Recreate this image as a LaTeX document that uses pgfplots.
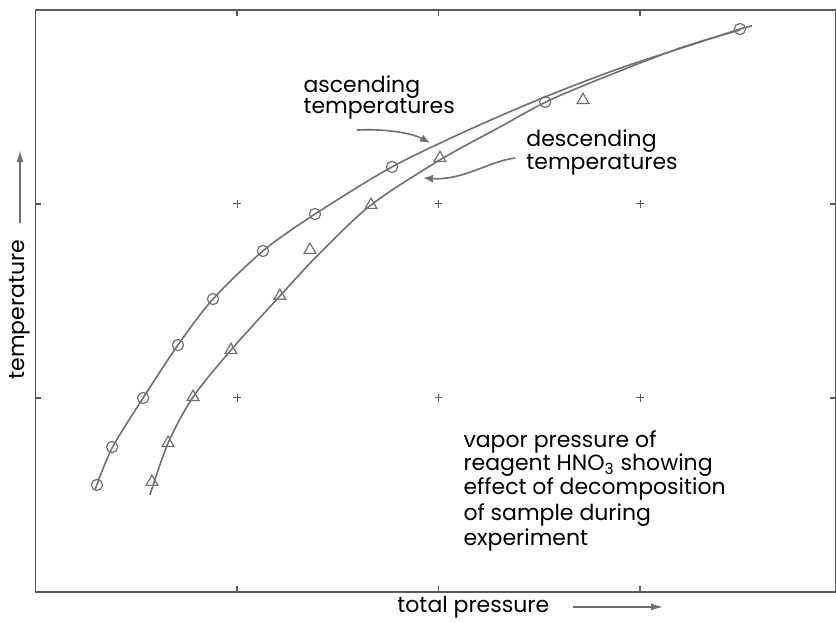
\documentclass[border=0pt]{standalone}
\usepackage{fontspec}
\setmainfont{Poppins}
\usepackage{pgfplots}
\pgfplotsset{compat=1.18}
\usetikzlibrary{arrows.meta}

\definecolor{pencil}{HTML}{707070}
\definecolor{frame}{HTML}{5A5A5A}

\begin{document}
\begin{tikzpicture}[font=\fontsize{11}{12}\selectfont]
\begin{axis}[
    name=ax,
    scale only axis,
    width=400pt, height=291pt,
    xmin=0, xmax=3.97,
    ymin=0, ymax=3,
    xtick={1,2,3}, ytick={1,2},
    xticklabels={}, yticklabels={},
    tick align=inside,
    major tick length=3pt,
    tick style={draw=frame, line width=0.6pt},
    axis line style={draw=frame, line width=0.8pt},
    clip=false,
    ]
% grid crosses
\addplot[only marks, mark=+, mark size=1.8pt, frame, mark options={line width=0.5pt}]
  coordinates {(1,1)(2,1)(3,1)(1,2)(2,2)(3,2)};

% ascending temperatures: drawn curve
\addplot[pencil, line width=0.8pt, smooth, tension=0.5] coordinates {
  (0.295,0.526)(0.380,0.742)(0.534,1.000)(0.707,1.273)(0.881,1.510)
  (1.129,1.758)(1.387,1.948)(1.769,2.191)(2.156,2.385)(2.529,2.552)
  (2.901,2.700)(3.248,2.818)(3.496,2.902)(3.556,2.918)};
% ascending temperatures: points
\addplot[only marks, mark=o, mark size=2.8pt, pencil, mark options={line width=0.6pt}] coordinates {
  (0.305,0.552)(0.380,0.747)(0.534,1.000)(0.707,1.273)(0.881,1.510)
  (1.129,1.758)(1.387,1.948)(1.769,2.191)(2.529,2.526)(3.496,2.902)};

% descending temperatures: drawn curve
\addplot[pencil, line width=0.8pt, smooth, tension=0.5] coordinates {
  (0.568,0.500)(0.658,0.768)(0.782,1.005)(0.970,1.247)(1.213,1.526)
  (1.400,1.735)(1.665,1.995)(2.007,2.227)(2.305,2.397)(2.553,2.536)
  (2.886,2.680)(3.213,2.809)(3.496,2.897)};
% descending temperatures: points
\addplot[only marks, mark=triangle, mark size=3.4pt, pencil, mark options={line width=0.6pt}] coordinates {
  (0.578,0.567)(0.658,0.768)(0.782,1.005)(0.970,1.247)(1.213,1.526)
  (1.362,1.763)(1.665,1.995)(2.007,2.237)(2.717,2.536)};

% annotations
\node[anchor=base west, inner sep=0pt] at (axis cs:1.328,2.577) {ascending};
\node[anchor=base west, inner sep=0pt] at (axis cs:1.328,2.464) {temperatures};
\draw[pencil, line width=0.8pt, -{Latex[length=5pt,width=4pt]}]
  (axis cs:1.595,2.381) .. controls (axis cs:1.75,2.39) and (axis cs:1.88,2.36) .. (axis cs:1.958,2.314);

\node[anchor=base west, inner sep=0pt] at (axis cs:2.434,2.294) {descending};
\node[anchor=base west, inner sep=0pt] at (axis cs:2.434,2.180) {temperatures};
\draw[pencil, line width=0.8pt, -{Latex[length=5pt,width=4pt]}]
  (axis cs:2.380,2.237) .. controls (axis cs:2.25,2.22) and (axis cs:2.12,2.12) .. (axis cs:1.923,2.134);

\node[anchor=base west, inner sep=0pt] at (axis cs:2.122,0.747) {vapor pressure of};
\node[anchor=base west, inner sep=0pt] at (axis cs:2.122,0.624) {reagent HNO\textsubscript{3} showing};
\node[anchor=base west, inner sep=0pt] at (axis cs:2.122,0.500) {effect of decomposition};
\node[anchor=base west, inner sep=0pt] at (axis cs:2.122,0.371) {of sample during};
\node[anchor=base west, inner sep=0pt] at (axis cs:2.122,0.242) {experiment};

% axis titles with arrows
\node[anchor=base west, inner sep=0pt] at (axis cs:1.794,-0.108) {total pressure};
\draw[pencil, line width=0.8pt, -{Latex[length=6pt,width=3.5pt]}]
  (axis cs:2.668,-0.077) -- (axis cs:3.115,-0.077);
\node[anchor=base west, inner sep=0pt, rotate=90] at (axis cs:-0.057,1.093) {temperature};
\draw[pencil, line width=0.8pt, -{Latex[length=6pt,width=3.5pt]}]
  (axis cs:-0.077,1.902) -- (axis cs:-0.077,2.278);

\coordinate (sw) at (rel axis cs:0,0);
\coordinate (ne) at (rel axis cs:1,1);
\end{axis}
\pgfresetboundingbox
\path ([xshift=-17.75pt,yshift=-15.5pt]sw) rectangle ([xshift=0.25pt,yshift=5pt]ne);
\end{tikzpicture}
\end{document}
